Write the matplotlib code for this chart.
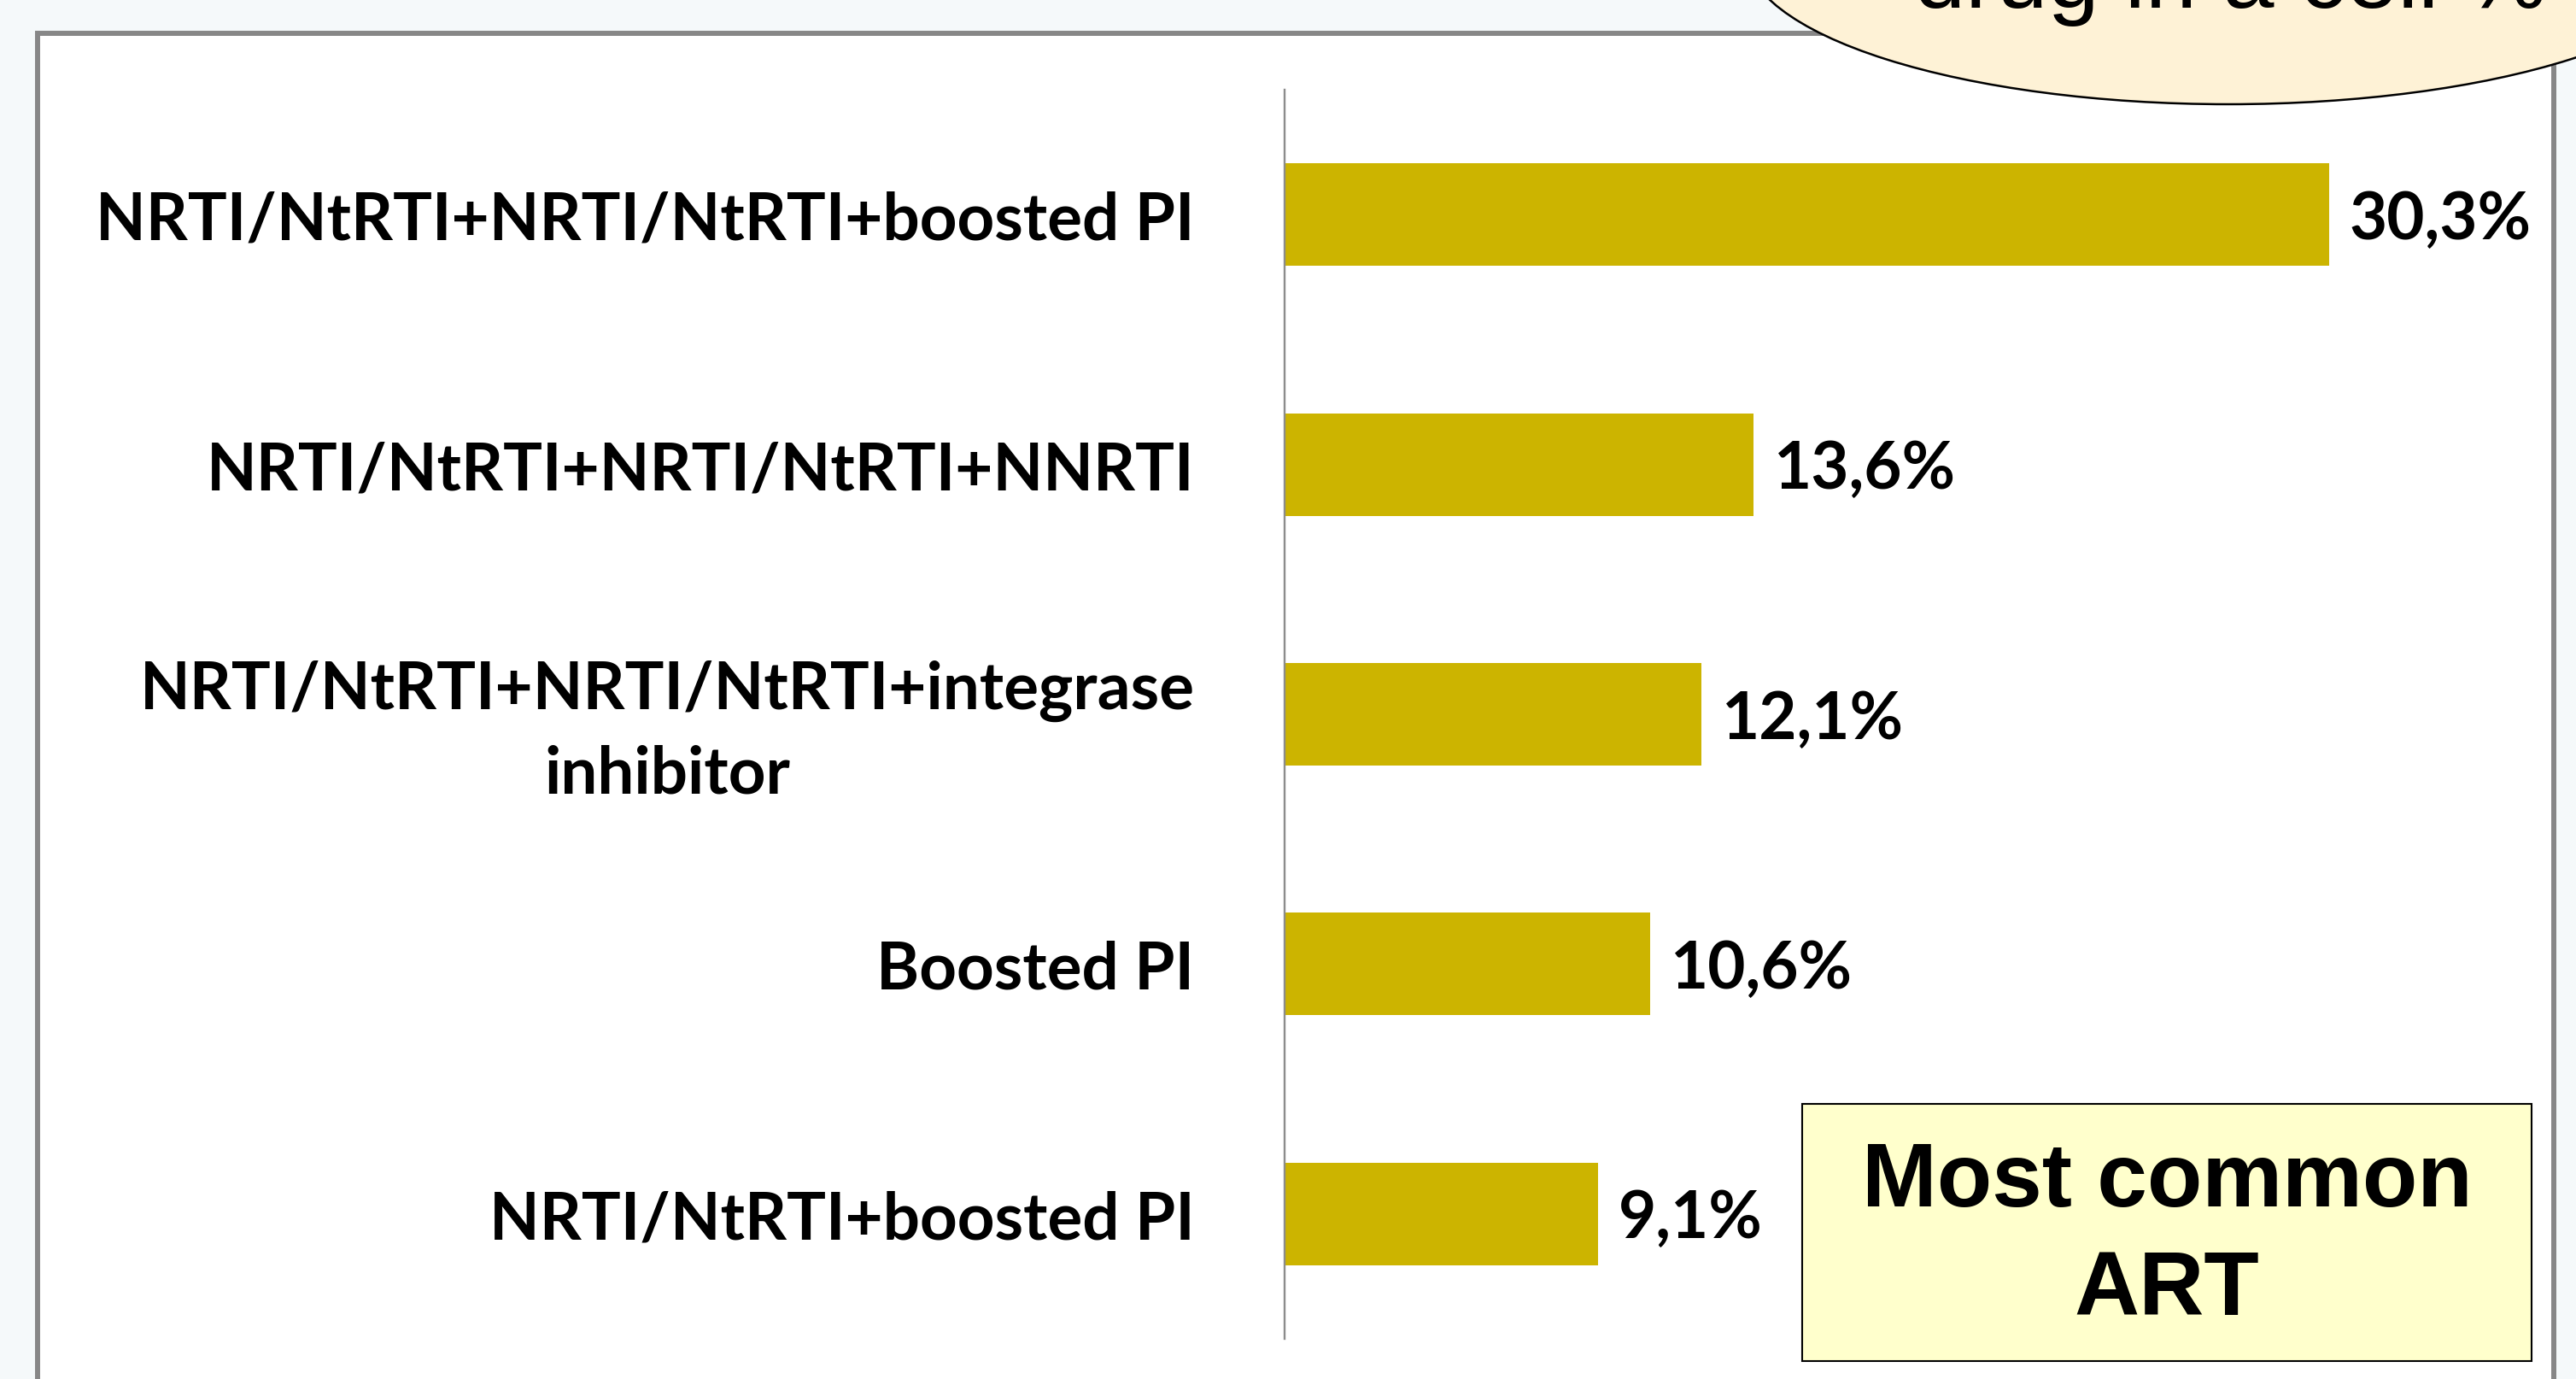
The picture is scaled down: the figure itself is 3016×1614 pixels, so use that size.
import matplotlib
matplotlib.use("Agg")
import matplotlib.pyplot as plt
import matplotlib.patches as mpatches

# data
regimens = [
    "NRTI/NtRTI+NRTI/NtRTI+boosted PI",
    "NRTI/NtRTI+NRTI/NtRTI+NNRTI",
    "NRTI/NtRTI+NRTI/NtRTI+integrase\ninhibitor",
    "Boosted PI",
    "NRTI/NtRTI+boosted PI",
]
shares = [30.3, 13.6, 12.1, 10.6, 9.1]
share_labels = ["30,3%", "13,6%", "12,1%", "10,6%", "9,1%"]

W, H = 3016, 1615
BAR = "#ccb400"
BG = "#f5f9fa"


def fx(px):
    return px / W


def fy(py):
    # py measured from the top of the picture
    return 1 - py / H


fig = plt.figure(figsize=(W / 100, H / 100), dpi=100)
fig.patch.set_facecolor(BG)

# white panel with grey frame (runs off the bottom)
frame = mpatches.Rectangle((fx(44), fy(1700)), fx(2990 - 44), (1700 - 40) / H,
                           transform=fig.transFigure, facecolor="white",
                           edgecolor="#878787", linewidth=4.3, zorder=-5)
fig.add_artist(frame)

ax = fig.add_axes([fx(1504), fy(1568), fx(1413), (1568 - 106) / H])
ax.set_facecolor("none")
ax.set_zorder(1)

ypos = list(range(len(regimens)))
ax.barh(ypos, shares, height=0.41, color=BAR, zorder=2)
ax.set_xlim(0, 35)
ax.set_ylim(len(regimens) - 0.5, -0.5)

for s in ["top", "right", "bottom"]:
    ax.spines[s].set_visible(False)
ax.spines["left"].set_color("#8c8c8c")
ax.spines["left"].set_linewidth(1.7)
ax.set_xticks([])
ax.set_yticks(ypos)
ax.set_yticklabels(regimens, fontfamily="Lato", fontweight="bold", fontsize=55,
                   linespacing=1.47)
ax.tick_params(axis="y", length=0, pad=76)
for t in ax.get_yticklabels():
    t.set_multialignment("center")

for y, v, lab in zip(ypos, shares, share_labels):
    ax.annotate(lab, (v, y), xytext=(17, -4), textcoords="offset points",
                ha="left", va="center", fontfamily="Lato", fontweight="bold",
                fontsize=55, zorder=3)

# speech bubble cut off at the top
bubble = mpatches.Ellipse((fx(2609), fy(-57)), fx(1134), 360 / H,
                          transform=fig.transFigure, facecolor="#fef2d6",
                          edgecolor="black", linewidth=1.8, zorder=5)
fig.add_artist(bubble)
fig.text(fx(2611), fy(9), "drug in a cell %", ha="center", va="baseline",
         fontfamily="Liberation Sans", fontsize=78, zorder=6)

# "Most common ART" box
box = mpatches.Rectangle((fx(2110), fy(1594)), fx(2964 - 2110), (1594 - 1293) / H,
                         transform=fig.transFigure, facecolor="#ffffcc",
                         edgecolor="black", linewidth=1.5, zorder=5)
fig.add_artist(box)
fig.text(fx(2537), fy(1412), "Most common", ha="center", va="baseline",
         fontfamily="Liberation Sans", fontweight="bold", fontsize=76, zorder=6)
fig.text(fx(2537), fy(1539), "ART", ha="center", va="baseline",
         fontfamily="Liberation Sans", fontweight="bold", fontsize=76, zorder=6)

fig.savefig("out.png", dpi=100, facecolor=BG)
